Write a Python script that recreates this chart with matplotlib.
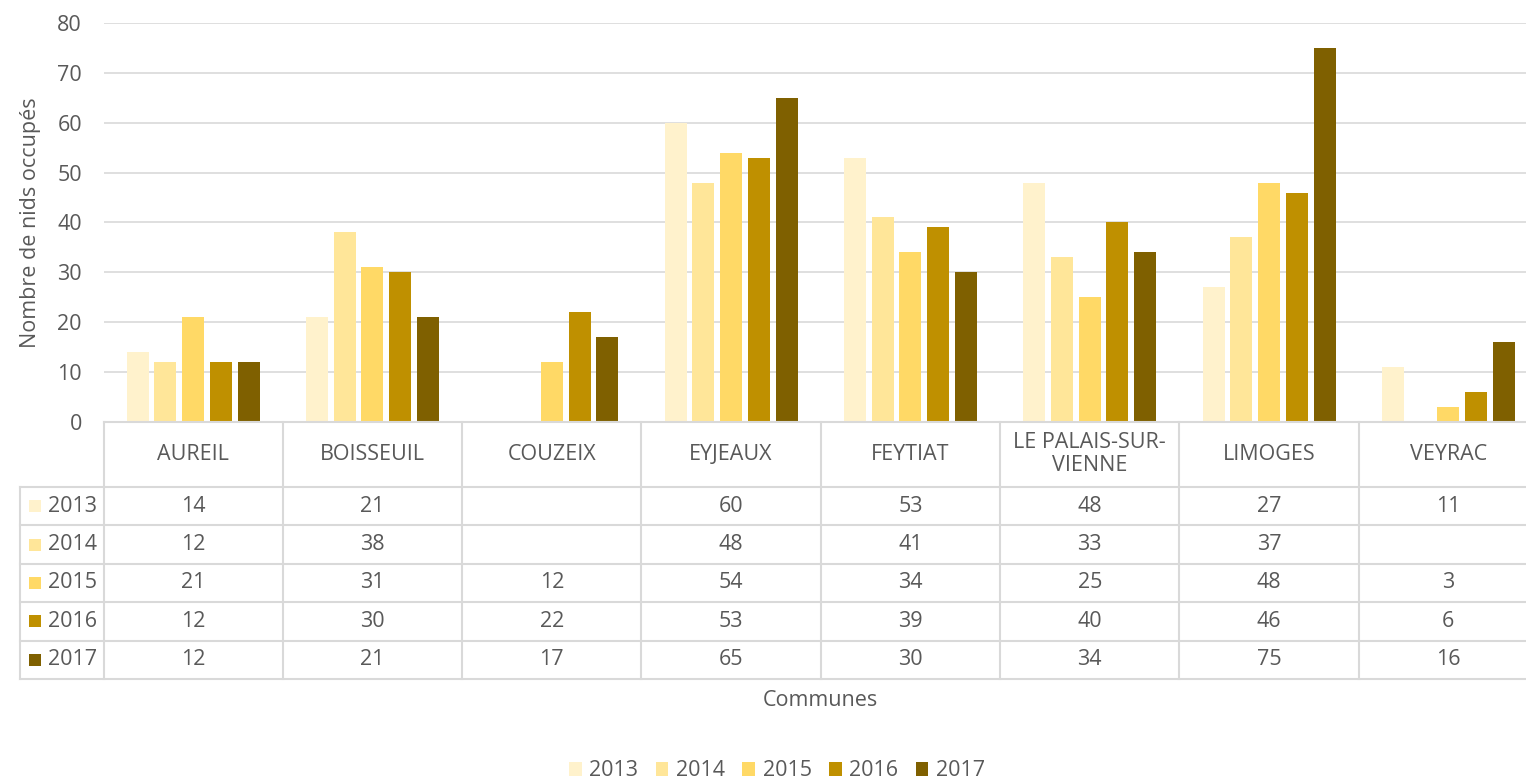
import matplotlib.pyplot as plt
import matplotlib.transforms as mtransforms
from matplotlib.patches import Rectangle
import numpy as np

plt.rcParams['font.family'] = ['Open Sans', 'DejaVu Sans']

# data
communes = ['AUREIL', 'BOISSEUIL', 'COUZEIX', 'EYJEAUX', 'FEYTIAT',
            'LE PALAIS-SUR-\nVIENNE', 'LIMOGES', 'VEYRAC']
years = ['2013', '2014', '2015', '2016', '2017']
v2013 = [14, 21, None, 60, 53, 48, 27, 11]
v2014 = [12, 38, None, 48, 41, 33, 37, None]
v2015 = [21, 31, 12, 54, 34, 25, 48, 3]
v2016 = [12, 30, 22, 53, 39, 40, 46, 6]
v2017 = [12, 21, 17, 65, 30, 34, 75, 16]
series = [v2013, v2014, v2015, v2016, v2017]
colors = ['#FFF2CC', '#FFE699', '#FFD966', '#BF9000', '#7F6000']

W, H = 1526, 781
txt = '#595959'
grid = '#D9D9D9'
fs = 15.5

fig = plt.figure(figsize=(W / 100, H / 100), dpi=100)
ax = fig.add_axes([103.5 / W, 1 - 421.5 / H, (1538 - 103.5) / W, (421.5 - 23.3) / H])

x = np.arange(len(communes))
pitch = 0.1548
width = 0.1227
for i, (vals, c) in enumerate(zip(series, colors)):
    h = [np.nan if v is None else v for v in vals]
    ax.bar(x + (i - 2) * pitch, h, width, color=c, zorder=3)

ax.set_xlim(-0.5, len(communes) - 0.5)
ax.set_ylim(0, 80)
ax.set_yticks(range(0, 81, 10))
ax.yaxis.grid(True, color=grid, lw=1.2, zorder=0)
ax.tick_params(axis='y', length=0, labelsize=fs, labelcolor=txt, pad=15.5)
ax.set_xticks([])
for s in ax.spines.values():
    s.set_visible(False)
ax.set_ylabel('Nombre de nids occupés', fontsize=fs, color=txt, labelpad=12)

# data table under the axis
tr = mtransforms.blended_transform_factory(ax.transData, fig.transFigure)


def fy(px):
    return 1 - px / H


top, head_bot = 421.5, 487
row_h = (679 - 487) / 5
rows = [head_bot + k * row_h for k in range(6)]
x_left = -0.5 - (103.5 - 20) / 179.3
x_right = len(communes) - 0.5

lkw = dict(color=grid, lw=1.5, transform=tr, clip_on=False)
fig.add_artist(plt.Line2D([-0.5, x_right], [fy(top)] * 2, **lkw))
for r in rows:
    fig.add_artist(plt.Line2D([x_left, x_right], [fy(r)] * 2, **lkw))
for k in range(len(communes) + 1):
    fig.add_artist(plt.Line2D([k - 0.5] * 2, [fy(top), fy(rows[-1])], **lkw))
fig.add_artist(plt.Line2D([x_left] * 2, [fy(rows[0]), fy(rows[-1])], **lkw))

for k, name in enumerate(communes):
    fig.text(k, fy((top + head_bot) / 2), name, ha='center', va='center',
             fontsize=fs, color=txt, transform=tr, linespacing=1.1)

for i, (vals, c, yr) in enumerate(zip(series, colors, years)):
    yc = fy(rows[i] + row_h / 2)
    for k, v in enumerate(vals):
        if v is not None:
            fig.text(k, yc, str(v), ha='center', va='center', fontsize=fs,
                     color=txt, transform=tr)
    fig.patches.append(Rectangle((29 / W, yc - 6 / H), 12 / W, 12 / H,
                                 facecolor=c, transform=fig.transFigure))
    fig.text(48 / W, yc, yr, ha='left', va='center', fontsize=fs, color=txt)

fig.text(820 / W, fy(700), 'Communes', ha='center', va='center',
         fontsize=fs, color=txt)

handles = [Rectangle((0, 0), 1, 1, facecolor=c) for c in colors]
fig.legend(handles, years, loc='center', bbox_to_anchor=(777 / W, fy(771)),
           ncol=5, frameon=False, fontsize=fs, labelcolor=txt,
           handlelength=0.6, handleheight=0.6, handletextpad=0.35,
           columnspacing=0.8)

fig.savefig('out.png', dpi=100)
